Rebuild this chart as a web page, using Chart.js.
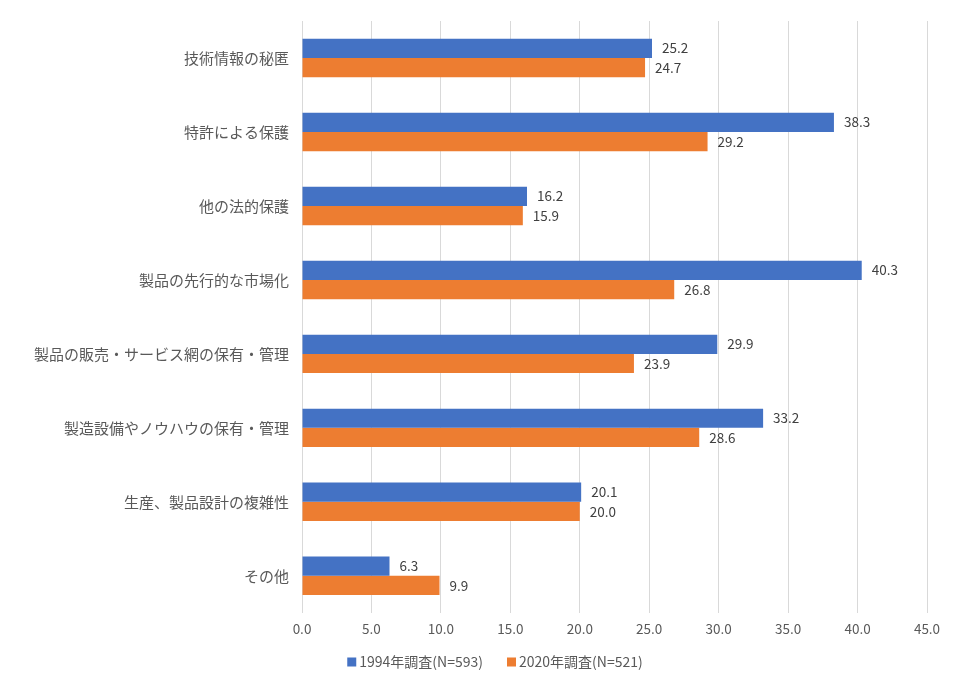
<!DOCTYPE html>
<html>
<head>
<meta charset="utf-8">
<script src="https://cdn.jsdelivr.net/npm/chart.js@4/dist/chart.umd.min.js"></script>
<style>
  html, body { margin: 0; padding: 0; background: #fff; }
  #wrap { width: 961px; height: 689px; }
</style>
</head>
<body>
<div id="wrap"><canvas id="barChart"></canvas></div>
<script>
// =========================
// Data
// =========================

const categories = [
    '技術情報の秘匿',
    '特許による保護',
    '他の法的保護',
    '製品の先行的な市場化',
    '製品の販売・サービス網の保有・管理',
    '製造設備やノウハウの保有・管理',
    '生産、製品設計の複雑性',
    'その他'
];
const survey1994 = [25.2, 38.3, 16.2, 40.3, 29.9, 33.2, 20.1, 6.3];
const survey2020 = [24.7, 29.2, 15.9, 26.8, 23.9, 28.6, 20.0, 9.9];
const seriesNames = ['1994年調査(N=593)', '2020年調査(N=521)'];

const FONT = '"Noto Sans CJK JP", "Noto Sans", sans-serif';

// value labels at the end of each bar
const barLabels = {
    id: 'barLabels',
    afterDatasetsDraw(chart) {
        const ctx = chart.ctx;
        ctx.save();
        ctx.font = '13.5px ' + FONT;
        ctx.fillStyle = '#404040';
        ctx.textAlign = 'left';
        ctx.textBaseline = 'middle';
        chart.data.datasets.forEach((ds, i) => {
            chart.getDatasetMeta(i).data.forEach((bar, j) => {
                ctx.fillText(ds.data[j].toFixed(1), bar.x + 10, bar.y);
            });
        });
        ctx.restore();
    }
};

// legend drawn by hand so the spacing matches the original
const bottomLegend = {
    id: 'bottomLegend',
    afterDraw(chart) {
        const ctx = chart.ctx;
        const y = 662;
        const gap = 24;
        ctx.save();
        ctx.font = '14px ' + FONT;
        ctx.textBaseline = 'middle';
        ctx.textAlign = 'left';
        const items = chart.data.datasets.map(ds => ({
            text: ds.label,
            color: ds.backgroundColor,
            w: 12 + ctx.measureText(ds.label).width
        }));
        const total = items.reduce((s, it) => s + it.w, 0) + gap * (items.length - 1);
        let x = 495 - total / 2;
        items.forEach(it => {
            ctx.fillStyle = it.color;
            ctx.fillRect(x, y - 4.5, 9, 9);
            ctx.fillStyle = '#595959';
            ctx.fillText(it.text, x + 12, y);
            x += it.w + gap;
        });
        ctx.restore();
    }
};

// =========================
// Chart
// =========================

const ctx = document.getElementById('barChart');

new Chart(ctx, {
    type: 'bar',
    data: {
        labels: categories,
        datasets: [{
            label: seriesNames[0],
            data: survey1994,
            backgroundColor: '#4472C4',
            categoryPercentage: 0.52,
            barPercentage: 1.0
        }, {
            label: seriesNames[1],
            data: survey2020,
            backgroundColor: '#ED7D31',
            categoryPercentage: 0.52,
            barPercentage: 1.0
        }]
    },
    options: {
        indexAxis: 'y',
        responsive: true,
        maintainAspectRatio: false,
        animation: false,
        layout: {
            padding: { top: 21, right: 34, left: 0, bottom: 44 }
        },
        plugins: {
            legend: { display: false },
            tooltip: { enabled: false }
        },
        scales: {
            x: {
                min: 0,
                max: 45,
                ticks: {
                    stepSize: 5,
                    color: '#595959',
                    font: { family: FONT, size: 13.5 },
                    padding: 8,
                    callback: v => v.toFixed(1)
                },
                grid: { color: '#d9d9d9', drawTicks: false },
                border: { display: false }
            },
            y: {
                ticks: {
                    color: '#595959',
                    font: { family: FONT, size: 15 },
                    padding: 5
                },
                grid: { display: false },
                border: { display: false },
                afterFit(scale) { scale.width = 302; }
            }
        }
    },
    plugins: [barLabels, bottomLegend]
});
</script>
</body>
</html>
